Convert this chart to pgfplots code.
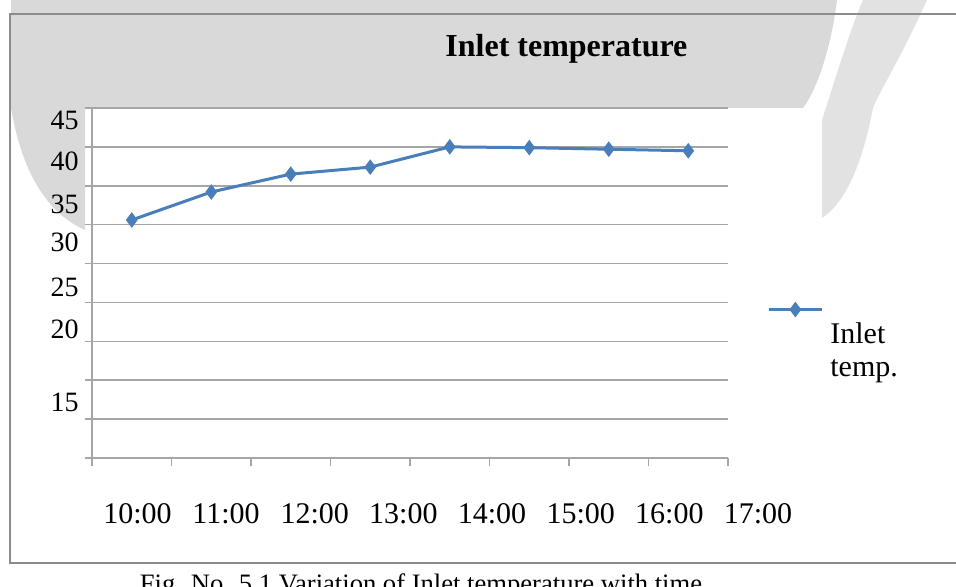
\documentclass[border=0pt]{standalone}
\usepackage{pgfplots}
\pgfplotsset{compat=1.18}
\usepackage{fontspec}
\setmainfont{Liberation Serif}
\definecolor{seriesblue}{HTML}{4A7EBB}
\definecolor{gridgray}{HTML}{A6A6A6}
\definecolor{bandgray}{HTML}{D9D9D9}
\definecolor{lightgray2}{HTML}{E2E2E2}
\definecolor{framegray}{HTML}{8C8C8C}
\begin{document}
\begin{tikzpicture}
\clip (0pt,0pt) rectangle (478pt,-293.5pt);
\begin{scope}[x=0.5pt,y=-0.5pt]
  \fill[white] (0,0) rectangle (956,587);
  % watermark-like grey background
  \fill[bandgray] (0,0) -- (837,0) .. controls (832,40) and (820,85) .. (803,108) -- (11,108) -- (11,0) -- cycle;
  \fill[bandgray] (11,108) .. controls (20,160) and (40,210) .. (85,230) -- (85,108) -- cycle;
  \fill[lightgray2] (863,0) -- (927,0) .. controls (900,60) and (880,90) .. (873,108) .. controls (865,150) and (850,200) .. (822,218) -- (822,120) .. controls (835,80) and (850,30) .. (863,0) -- cycle;
  % frame
  \draw[framegray, line width=1pt] (956,14) -- (10,14) -- (10,563) -- (956,563);
  % title
  \node[anchor=base west, inner sep=0pt, font=\fontsize{16}{19}\selectfont\bfseries] at (445,57) {Inlet temperature};
  % caption
  \node[anchor=north, inner sep=0pt, font=\fontsize{13.3}{16}\selectfont] at (421,573) {Fig. No. 5.1 Variation of Inlet temperature with time};
\end{scope}
\begin{axis}[
  at={(46pt,-229pt)}, anchor=south west,
  scale only axis, width=318pt, height=175pt,
  xmin=0.5, xmax=8.5, ymin=0, ymax=45,
  axis x line*=bottom, axis y line*=left,
  axis line style={draw=gridgray, line width=0.75pt},
  tick align=outside,
  major tick length=0pt,
  minor tick length=3.75pt,
  tick style={draw=gridgray, line width=0.75pt},
  xtick={1,2,3,4,5,6,7,8},
  xticklabels={10:00,11:00,12:00,13:00,14:00,15:00,16:00,17:00},
  minor xtick={0.5,1.5,2.5,3.5,4.5,5.5,6.5,7.5,8.5},
  xticklabel style={font=\fontsize{15}{18}\selectfont, anchor=base, inner sep=0pt, yshift=-32.5pt, xshift={2.85pt+4.575pt*\ticknum}},
  ytick={43.35,38.1,32.6,27.7,22.0,16.6,7.16},
  yticklabels={45,40,35,30,25,20,15},
  minor ytick={0,5,10,15,20,25,30,35,40,45},
  yminorgrids=true,
  minor grid style={draw=gridgray, line width=0.75pt},
  yticklabel style={font=\fontsize{14}{16}\selectfont, anchor=east, inner sep=0pt, xshift=-6.5pt},
  legend style={at={(1.0613,0.2128)}, anchor=south west, draw=none, fill=none, inner sep=0pt, column sep=3.5pt,
    nodes={inner sep=0pt, text depth=, font=\fontsize{15}{16.5}\selectfont},
    cells={anchor=west, align=left}},
  legend image code/.code={
    \draw[#1, mark repeat=2, mark phase=2] plot coordinates {(0pt,21.75pt) (13.25pt,21.75pt) (26.5pt,21.75pt)};
  },
  clip=false,
]
\addplot[color=seriesblue, line width=1.5pt, mark=diamond*, mark size=3.5pt, mark options={solid, fill=seriesblue, line width=0.5pt}]
  coordinates {(1,30.6) (2,34.2) (3,36.5) (4,37.4) (5,40.0) (6,39.9) (7,39.7) (8,39.5)};
\addlegendentry{Inlet\\temp.}
\end{axis}
\end{tikzpicture}
\end{document}
